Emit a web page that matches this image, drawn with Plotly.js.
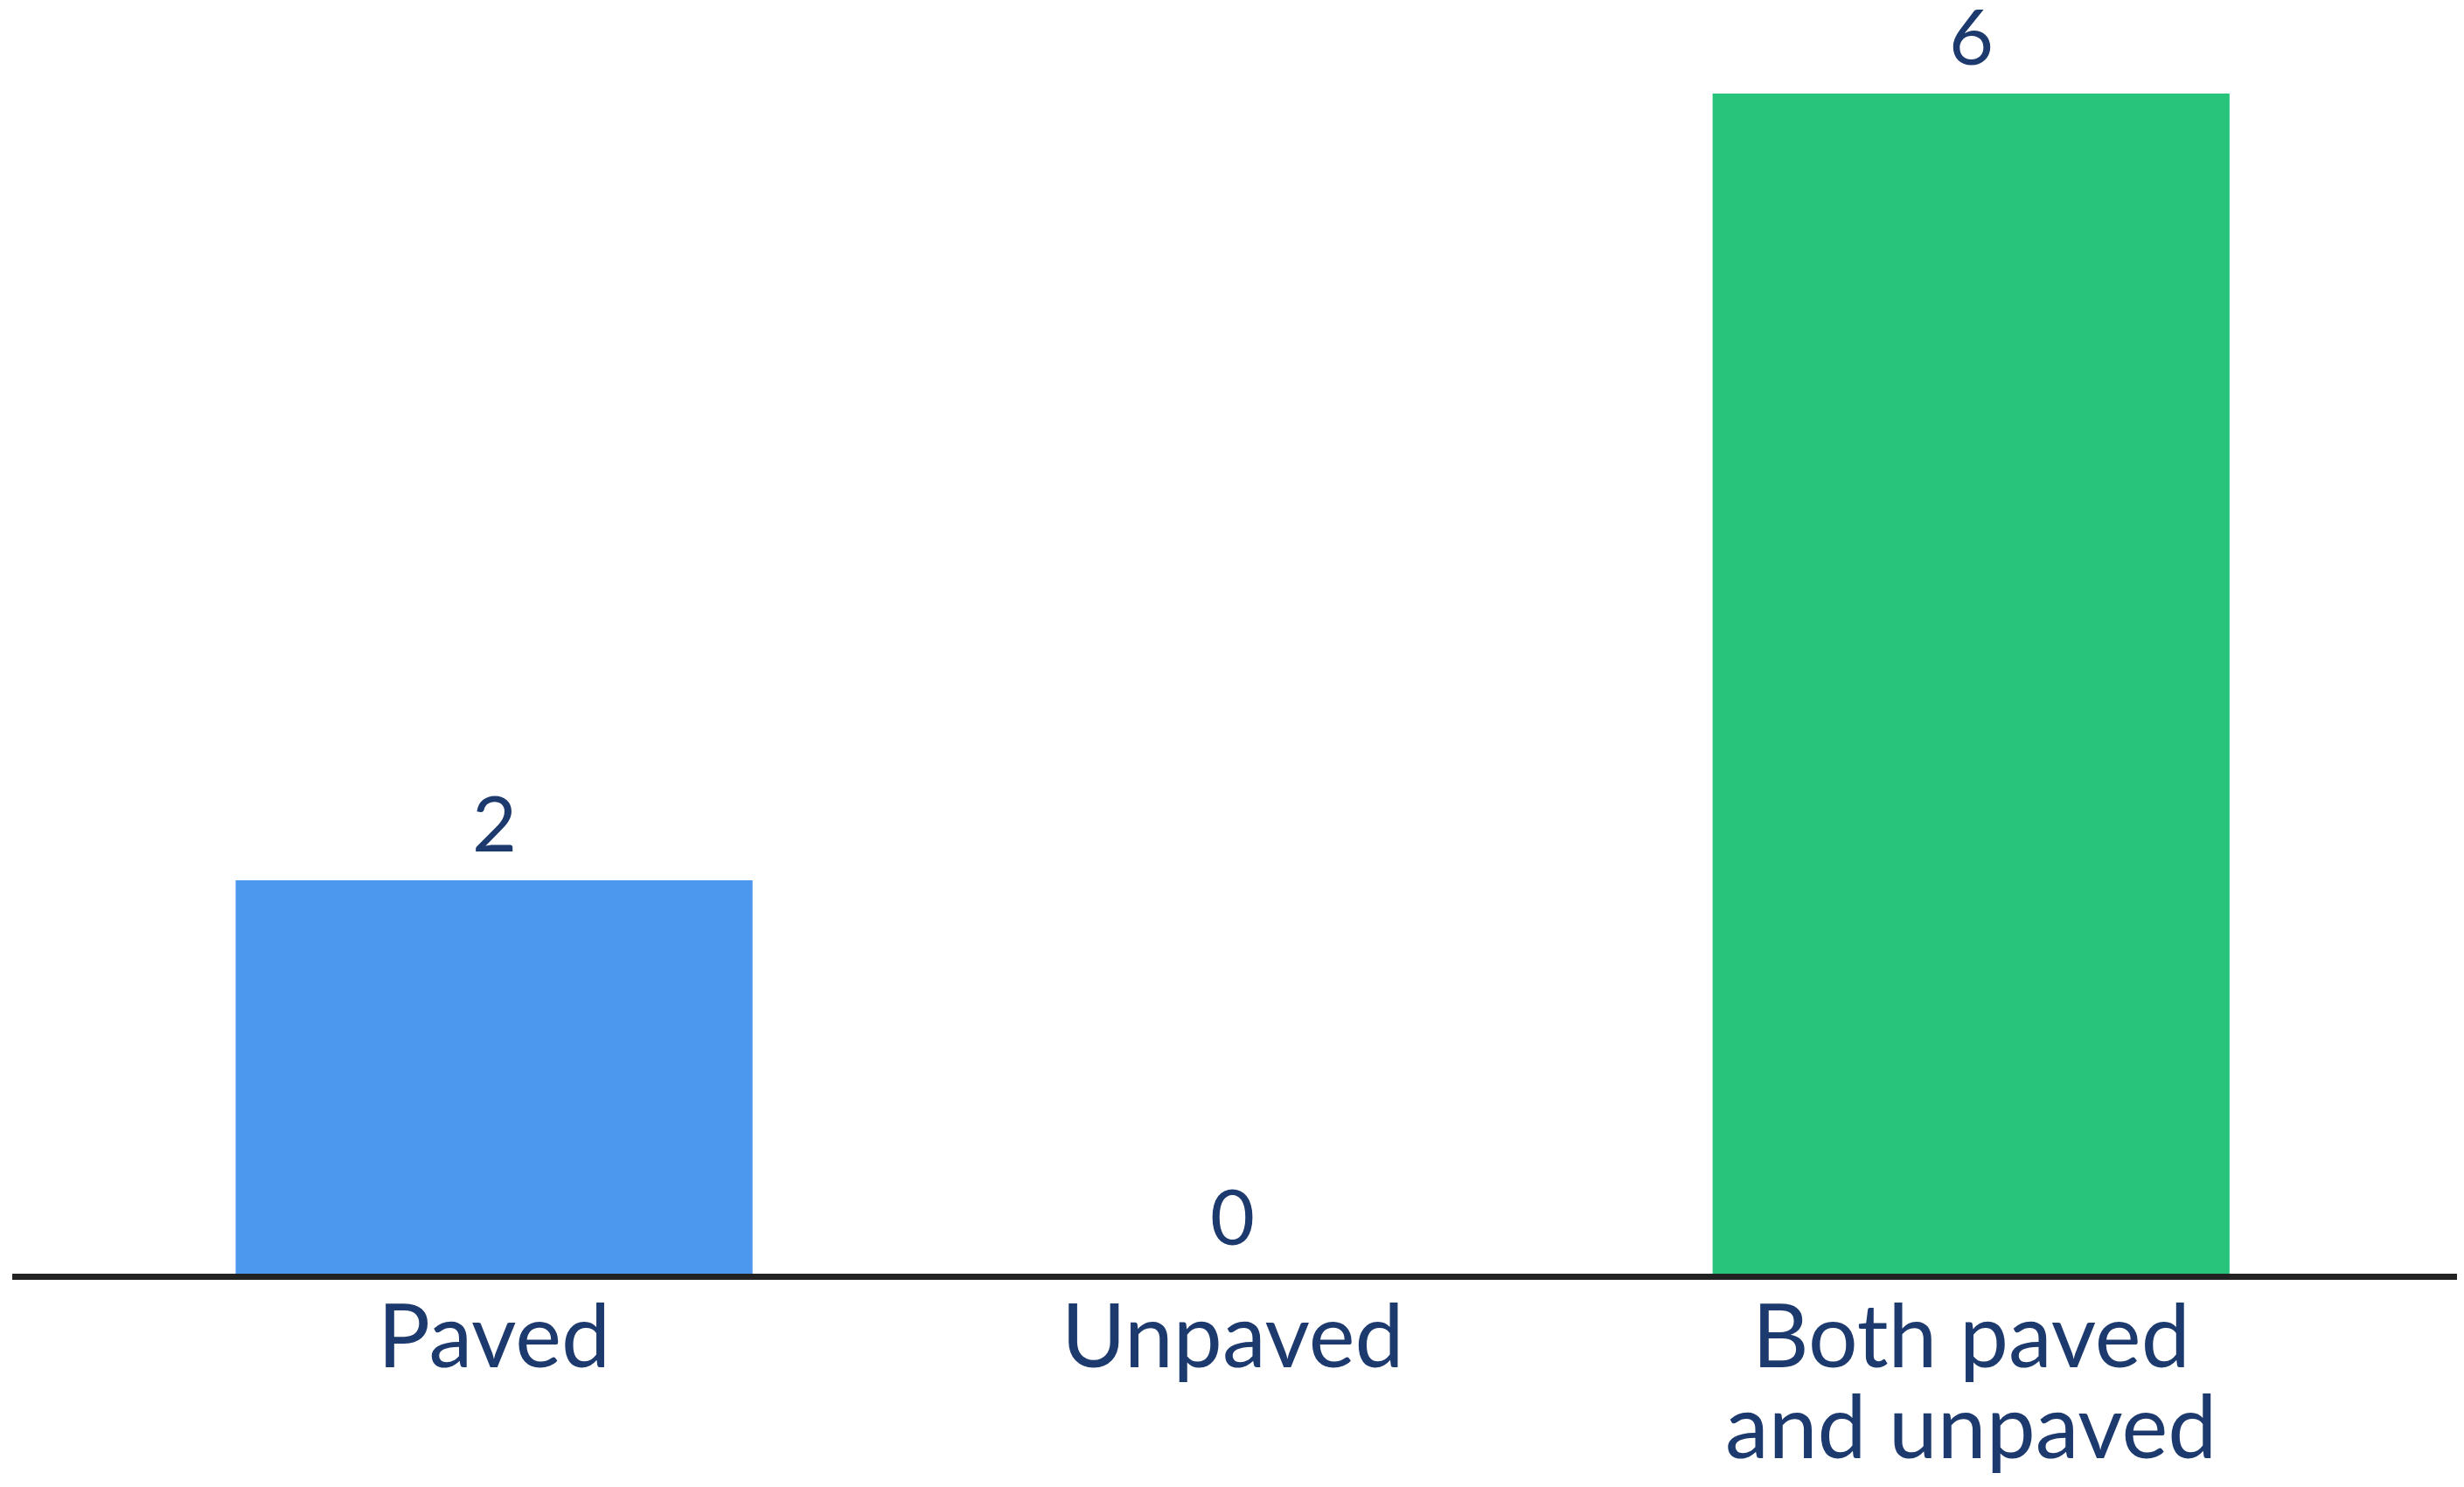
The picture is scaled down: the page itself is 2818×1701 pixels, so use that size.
<!DOCTYPE html>
<html>
<head>
<meta charset="utf-8">
<script src="https://cdn.plot.ly/plotly-3.0.1.min.js"></script>
<style>
html,body{margin:0;padding:0;background:#fff;}
#chart{width:2818px;height:1701px;}
</style>
</head>
<body>
<div id="chart"></div>
<script>
const categories = ["Paved", "Unpaved", "Both paved and unpaved"];
const tickLabelLines = [["Paved"], ["Unpaved"], ["Both paved", "and unpaved"]];
const values = [2, 0, 6];
const barColors = ["#4C98EE", "#000000", "#28C47C"];
const textColor = "#1C3A6E";
const fontFamily = "Lato, 'Source Sans Pro', 'Noto Sans', sans-serif";

const trace = {
  type: "bar",
  x: categories,
  y: values,
  width: 0.7,
  marker: {color: barColors, line: {width: 0}},
  hoverinfo: "skip"
};

const annotations = [];
categories.forEach((c, i) => {
  annotations.push({
    x: c, y: values[i], xref: "x", yref: "y",
    text: String(values[i]), showarrow: false,
    yanchor: "bottom", yshift: 12,
    font: {family: fontFamily, size: 88, color: textColor}
  });
  tickLabelLines[i].forEach((line, j) => {
    annotations.push({
      x: c, y: 0, xref: "x", yref: "paper",
      text: line, showarrow: false,
      yanchor: "top", yshift: -6 - j * 104,
      font: {family: fontFamily, size: 100, color: textColor}
    });
  });
});

const layout = {
  width: 2818,
  height: 1701,
  margin: {l: 14, r: 8, t: 0, b: 244, pad: 0},
  paper_bgcolor: "#ffffff",
  plot_bgcolor: "#ffffff",
  showlegend: false,
  bargap: 0.3,
  xaxis: {
    type: "category",
    range: [-0.6525, 2.658],
    showgrid: false,
    zeroline: false,
    showline: true,
    linecolor: "#222222",
    linewidth: 7,
    ticks: "",
    showticklabels: false,
    fixedrange: true
  },
  yaxis: {
    range: [0, 6.476],
    showgrid: false,
    zeroline: false,
    showline: false,
    showticklabels: false,
    ticks: "",
    fixedrange: true
  },
  annotations: annotations
};

Plotly.newPlot("chart", [trace], layout, {displayModeBar: false, staticPlot: true});
</script>
</body>
</html>
